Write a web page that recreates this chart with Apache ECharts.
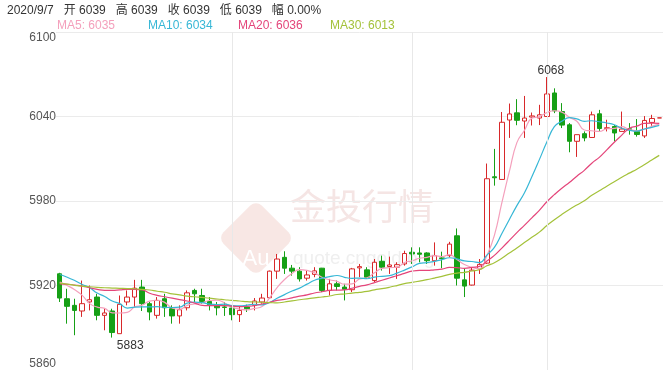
<!DOCTYPE html>
<html><head><meta charset="utf-8">
<script src="https://cdn.jsdelivr.net/npm/echarts@6/dist/echarts.min.js"></script>
<style>html,body{margin:0;padding:0;background:#fff}#c{width:667px;height:370px}</style>
</head><body><div id="c"></div>
<script>
// ---- data ----
const lastDate = '2020/9/7';
const categories = Array.from({length: 81}, (_, i) => i === 80 ? lastDate : 'k' + (i + 1));

const opens = [5928.3,5910.6,5905.9,5901.9,5908.3,5911.8,5898.8,5901.9,5885.8,5908.3,
5911.8,5918.9,5907.1,5898.8,5910.6,5903.5,5898.4,5904.2,5916.5,5912.9,
5908.7,5905.9,5904.8,5904.0,5899.3,5904.7,5905.9,5908.3,5911.3,5930.2,
5940.0,5932.3,5930.2,5925.2,5927.9,5932.3,5916.5,5921.2,5918.9,5917.0,
5932.5,5931.1,5923.5,5937.2,5933.5,5933.0,5935.3,5943.6,5943.1,5943.1,
5937.6,5939.6,5941.2,5955.3,5924.0,5920.3,5931.8,5935.9,5997.2,5995.3,
6037.5,6042.6,6036.8,6039.6,6038.9,6040.0,6056.7,6043.5,6034.1,6022.4,
6027.8,6025.1,6041.9,6031.5,6032.9,6029.4,6031.3,6029.4,6026.2,6035.8,6039];
const closes = [5911.1,5905.2,5902.3,5907.1,5909.9,5898.8,5900.5,5886.6,5906.6,5911.8,
5918.1,5907.1,5901.2,5909.4,5904.2,5898.4,5902.8,5914.8,5914.1,5908.7,
5906.4,5904.2,5904.4,5899.3,5902.3,5903.5,5909.0,5911.1,5930.2,5938.8,
5932.3,5930.2,5924.7,5927.5,5930.4,5916.5,5921.2,5919.3,5917.3,5931.8,
5933.4,5925.9,5936.5,5933.0,5934.6,5934.8,5942.7,5942.4,5942.2,5937.6,
5941.2,5939.1,5949.4,5925.2,5919.6,5930.9,5935.0,5995.8,5996.5,6035.9,
6041.8,6037.3,6038.9,6040.4,6041.2,6056.0,6044.0,6033.9,6022.4,6027.1,
6024.8,6041.2,6031.5,6032.0,6028.3,6031.1,6030.8,6027.2,6037.2,6038.6,6039];
const lows = [5908.3,5892.9,5884.7,5897.7,5902.3,5895.3,5888.2,5883,5885.8,5905.9,
5904.7,5901.9,5895.3,5896.5,5897.7,5892.9,5892.9,5902.3,5908.3,5907.1,
5902.3,5898.8,5898.4,5895.3,5894.1,5901.2,5902.3,5907.1,5910.6,5924.7,
5928.2,5927.0,5922.8,5923.5,5925.9,5915.3,5912.9,5916.5,5909.4,5915.3,
5925.9,5924.7,5922.4,5930.6,5928.2,5924.7,5934.1,5935.3,5936.5,5935.3,
5934.1,5932.3,5940.0,5920.0,5911.8,5920.0,5928.2,5935.3,5990.9,5995.3,
6024.8,6033.8,6024.8,6033.6,6033.9,6040.0,6042.4,6031.8,6014.6,6011.3,
6022.4,6024.8,6029.4,6029.4,6022.4,6029.4,6027.1,6025.7,6024.8,6033.4,6039];
const highs = [5929.0,5917.7,5910.6,5923.5,5920.0,5914.1,5903.5,5903.5,5912.9,5916.5,
5924.0,5924.0,5908.3,5911.8,5914.1,5905.9,5905.9,5916.5,5917.7,5917.7,
5911.8,5908.3,5908.3,5905.9,5904.7,5906.4,5911.1,5914.1,5930.6,5942.4,
5944.3,5934.6,5933.0,5930.6,5933.0,5932.5,5924.7,5923.5,5921.2,5932.5,
5935.3,5933.0,5938.8,5941.2,5940.5,5936.5,5944.7,5947.1,5947.1,5943.6,
5950.6,5944.0,5951.0,5960.5,5932.3,5933.0,5938.8,6006.6,6017.0,6043.2,
6049.2,6052.3,6054.6,6042.8,6048.3,6068,6060.0,6049.5,6035.3,6027.1,
6029.4,6043.5,6044.7,6037.7,6033.9,6043.5,6035.3,6038.2,6040.3,6041.2,6039];

// MA values at the left edge (their windows start before the visible data)
const ma5Head = [5922.4,5920.0,5917.0,5913.0];
const ma10Head = [5927.8,5925.9,5923.5,5920.7,5918.4,5914.6,5912.2,5909.0,5907.1];
const ma20Head = [5921.2,5920.9,5920.3,5919.6,5918.4,5917.3,5916.6,5916.6,5916.9,5917.3,
5917.3,5916.9,5914.5,5913.0,5912.0,5911.0,5910.0,5909.0,5907.5];
const ma30Head = [5921.7,5921.0,5920.1,5919.6,5919.1,5918.7,5918.4,5918.2,5918.0,5917.8,
5917.7,5917.3,5916.8,5915.9,5915.2,5914.1,5913.3,5912.4,5912.0,5911.5,
5911.0,5910.4,5909.9,5909.4,5909.0,5908.5,5908.3,5908.1,5907.9];

const maNames = ['MA5', 'MA10', 'MA20', 'MA30'];
const maPeriods = [5, 10, 20, 30];
const maHeads = [ma5Head, ma10Head, ma20Head, ma30Head];
const maLast = [6035, 6034, 6036, 6013];
const maColors = ['#f4a0bc', '#37b7d6', '#e4457a', '#a4c23a'];
const yTicks = [5860, 5920, 5980, 6040, 6100];
const splitIdx = [23, 47, 65];
const change = '0.00%';

// ---- build ----
function movingAverage(period, head) {
  return closes.map((_, i) => {
    if (i < period - 1) return head[i];
    let s = 0;
    for (let j = i - period + 1; j <= i; j++) s += closes[j];
    return +(s / period).toFixed(2);
  });
}
const kData = categories.map((_, i) => [opens[i], closes[i], lows[i], highs[i]]);
const latin = '"Liberation Sans", Arial, "Noto Sans CJK SC", sans-serif';
const UP = '#d8282a', DOWN = '#16a016';
const n = closes.length - 1;
const fmt = v => String(Math.round(v));
const headerText = lastDate + '   开 ' + fmt(opens[n]) + '   高 ' + fmt(highs[n]) +
  '   收 ' + fmt(closes[n]) + '   低 ' + fmt(lows[n]) + '   幅 ' + change;
const maLabelX = [57, 148, 238, 330];

const chart = echarts.init(document.getElementById('c'), null, {renderer: 'canvas'});
const option = {
  animation: false,
  backgroundColor: '#fff',
  grid: {left: 56, right: 4, top: 32, bottom: -2},
  xAxis: {
    type: 'category', data: categories, boundaryGap: true,
    axisLine: {show: false}, axisTick: {show: false}, axisLabel: {show: false},
    splitLine: {show: false}
  },
  yAxis: {
    type: 'value', min: yTicks[0], max: yTicks[yTicks.length - 1], interval: 60, scale: true,
    axisLine: {show: false}, axisTick: {show: false},
    axisLabel: {color: '#555', fontSize: 12, fontFamily: latin, margin: 0,
      formatter: v => String(v),
      verticalAlignMinLabel: 'bottom', verticalAlignMaxLabel: 'top'},
    splitLine: {lineStyle: {color: '#ebebeb', width: 1}}
  },
  graphic: [
    {type: 'rect', x: 256, y: 238, rotation: Math.PI / 4, z: 0, silent: true,
      shape: {x: -27, y: -27, width: 54, height: 54, r: 8},
      style: {fill: '#f8e7e4'}},
    {type: 'text', x: 256, y: 259, z: 0, silent: true,
      style: {text: 'Au', fill: '#ffffff', fontSize: 22, fontFamily: latin, align: 'center', verticalAlign: 'middle'}},
    {type: 'text', left: 290, top: 188, z: 0, silent: true,
      style: {text: '金投行情', fill: '#f5e5e4', fontSize: 36, fontFamily: '"Noto Sans CJK SC", sans-serif', letterSpacing: 2}},
    {type: 'text', left: 293, top: 249, z: 0, silent: true,
      style: {text: 'quote.cngold.org', fill: '#efefef', fontSize: 19, fontFamily: latin}},
    {type: 'text', left: 7, top: 5, z: 10,
      style: {text: headerText, fill: '#333', fontSize: 12, fontFamily: latin, letterSpacing: 0.15}},
  ].concat(maNames.map((nm, k) => ({
    type: 'text', left: maLabelX[k], top: 20, z: 10,
    style: {text: nm + ': ' + maLast[k], fill: maColors[k], fontSize: 12, fontFamily: latin}
  }))),
  series: [
    {
      type: 'line', data: [], z: 1, silent: true,
      markLine: {
        silent: true, symbol: ['none', 'none'], label: {show: false},
        lineStyle: {color: '#e8e8e8', width: 1, type: 'solid'},
        emphasis: {disabled: true},
        data: splitIdx.map(i => ({xAxis: categories[i]}))
      }
    },
    {
      type: 'candlestick', data: kData, z: 2, barWidth: 5,
      itemStyle: {color: '#ffffff', color0: DOWN, borderColor: UP, borderColor0: DOWN, borderWidth: 1},
      markPoint: {
        symbol: 'circle', symbolSize: 1, silent: true,
        itemStyle: {color: 'rgba(0,0,0,0)'},
        label: {show: true, color: '#333', fontSize: 12, fontFamily: latin, formatter: p => fmt(p.value)},
        data: [
          {type: 'max', valueDim: 'highest', label: {position: 'inside', offset: [4, -6]}},
          {type: 'min', valueDim: 'lowest', label: {position: 'inside', offset: [18, 8]}}
        ]
      }
    }
  ].concat(maNames.map((nm, k) => ({
    name: nm, type: 'line', z: 3,
    data: movingAverage(maPeriods[k], maHeads[k]),
    smooth: true, showSymbol: false, symbol: 'none', silent: true,
    lineStyle: {color: maColors[k], width: 1.2}
  })))
};
chart.setOption(option);
</script>
</body></html>
